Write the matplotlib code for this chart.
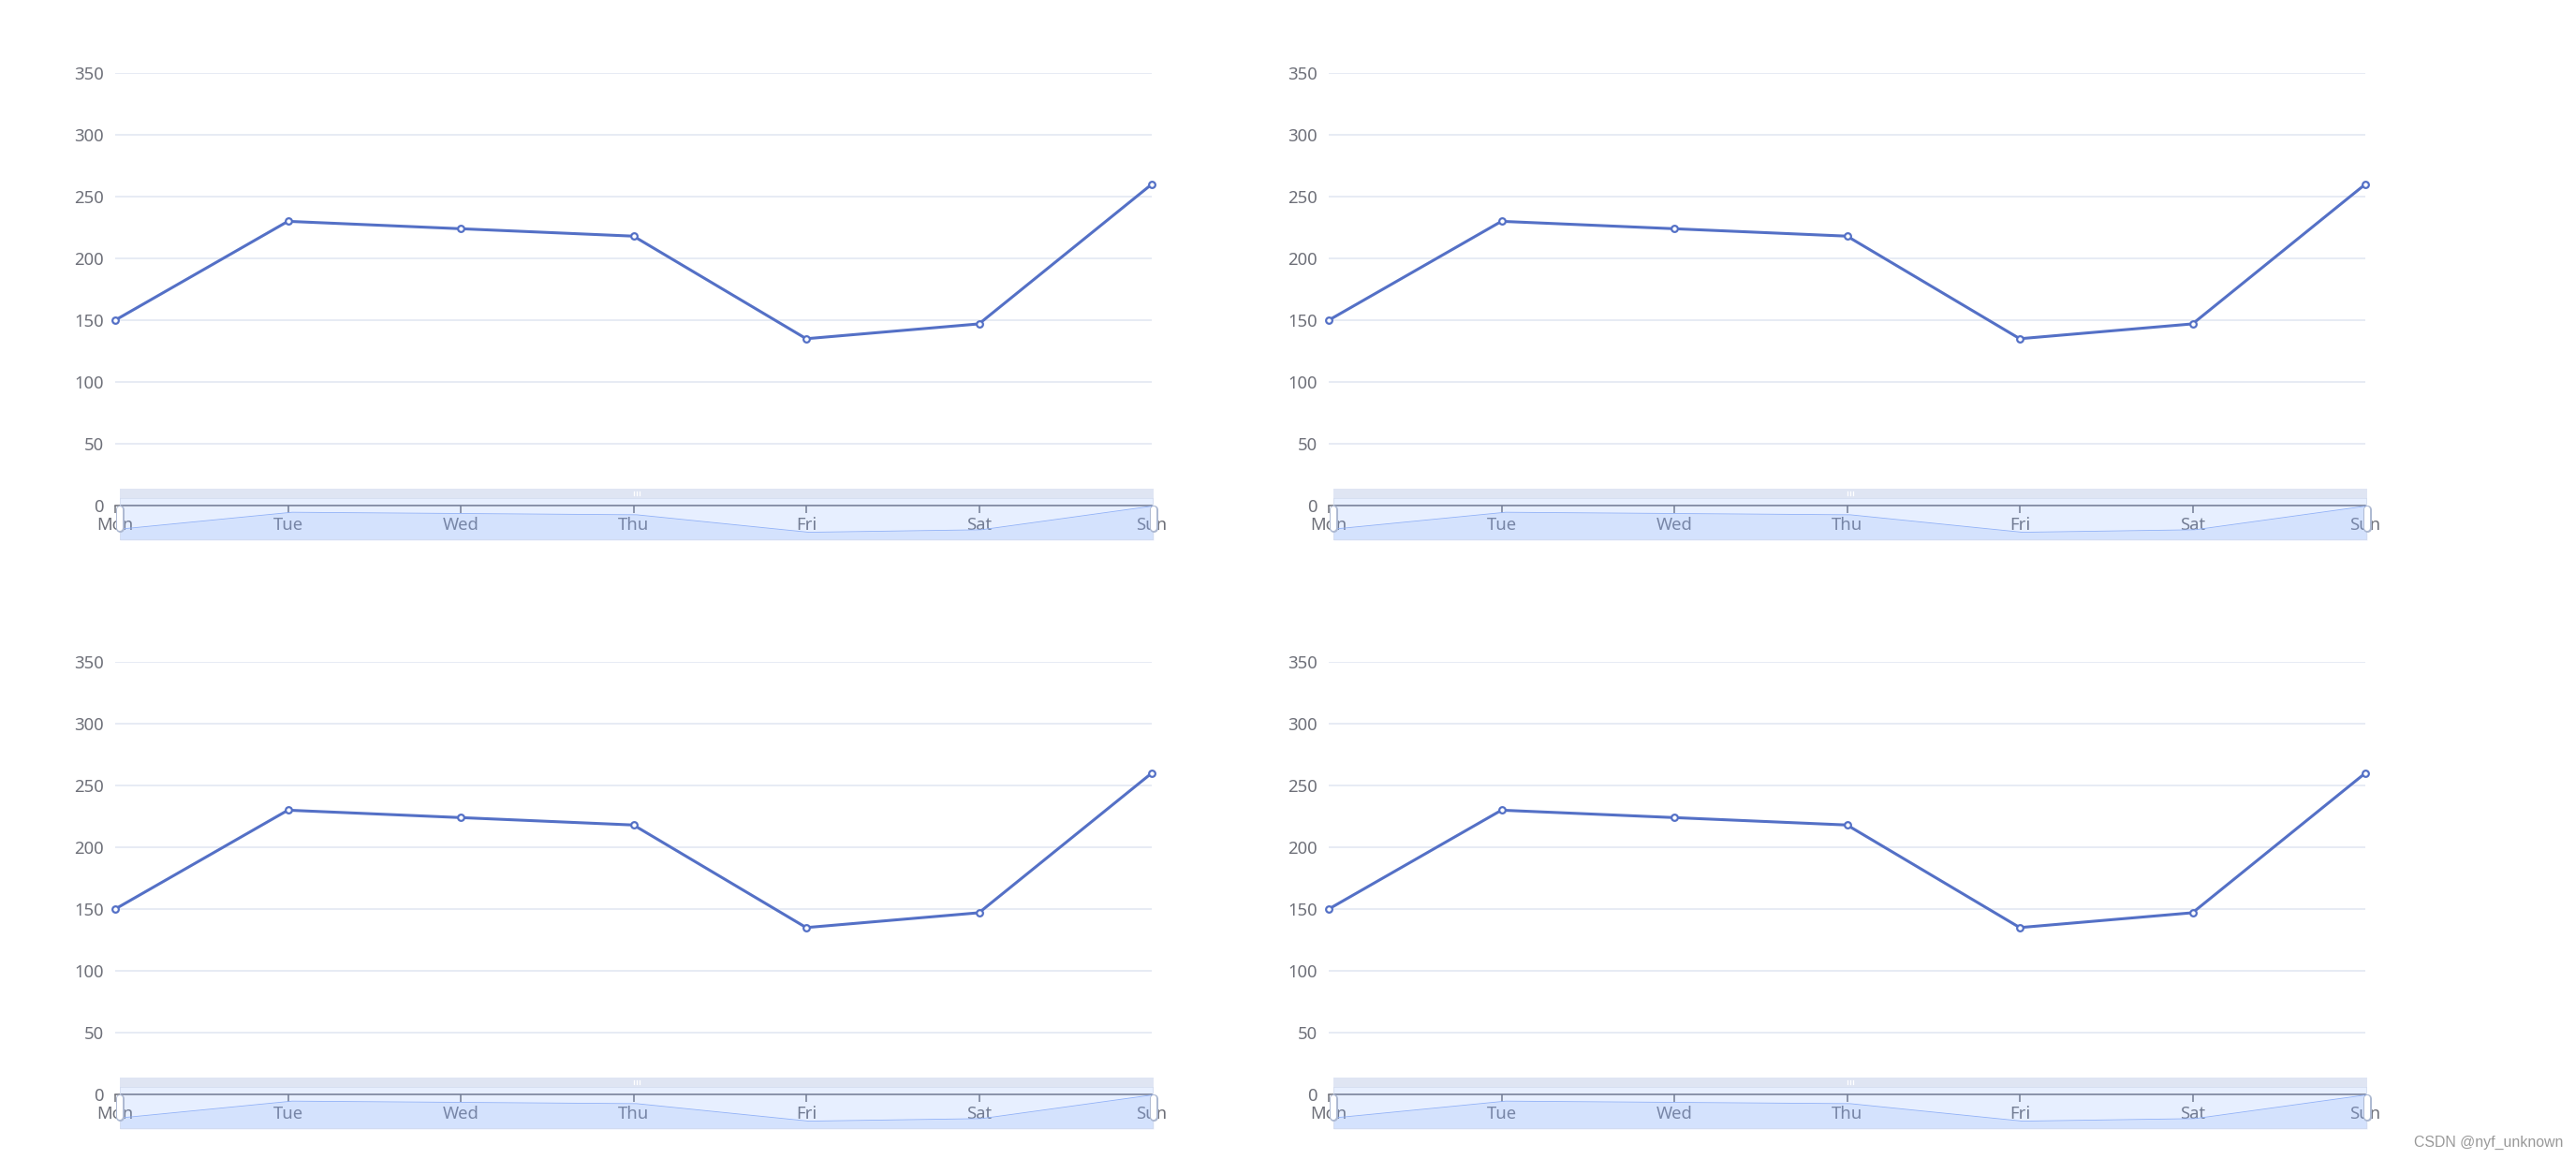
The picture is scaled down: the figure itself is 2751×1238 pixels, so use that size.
import numpy as np
import matplotlib.pyplot as plt
from matplotlib.patches import Rectangle

days = ['Mon', 'Tue', 'Wed', 'Thu', 'Fri', 'Sat', 'Sun']
values = [150, 230, 224, 218, 135, 147, 260]
y_ticks = [0, 50, 100, 150, 200, 250, 300, 350]

W, H = 2751, 1238
plt.rcParams['font.family'] = ['Noto Sans', 'DejaVu Sans']
fig = plt.figure(figsize=(W / 100, H / 100), dpi=100)


def box(x0, y0, x1, y1):
    # pixel box (origin top-left) -> figure fraction rect
    return [x0 / W, 1 - y1 / H, (x1 - x0) / W, (y1 - y0) / H]


def chart(dx, dy):
    x = np.arange(len(days))
    ax = fig.add_axes(box(123 + dx, 78 + dy, 1230 + dx, 540 + dy))
    ax.plot(x, values, color='#5470c6', lw=2.2, marker='o', ms=4.8,
            mfc='white', mec='#5470c6', mew=1.6, zorder=3, clip_on=False)
    ax.set_xlim(0, len(days) - 1)
    ax.set_ylim(0, 350)
    ax.set_yticks(y_ticks)
    ax.set_xticks(x)
    ax.set_xticklabels(days)
    for s in ['top', 'right', 'left']:
        ax.spines[s].set_visible(False)
    ax.spines['bottom'].set_color('#6E7079')
    ax.spines['bottom'].set_linewidth(1.1)
    ax.spines['bottom'].set_zorder(2.5)
    ax.grid(axis='y', color='#E0E6F1', lw=1.1)
    ax.set_axisbelow(True)
    ax.tick_params(axis='y', length=0, pad=9, labelsize=13.3, labelcolor='#6E7079')
    ax.tick_params(axis='x', length=5.4, width=1.1, color='#6E7079', pad=3.2,
                   labelsize=13.3, labelcolor='#6E7079')

    # data zoom slider
    sx0, sx1 = 128 + dx, 1232 + dx
    sy0, sy1 = 532 + dy, 577 + dy
    sw, sh = sx1 - sx0, sy1 - sy0
    sa = fig.add_axes(box(sx0, sy0, sx1, sy1), zorder=5)
    sa.patch.set_visible(False)
    sa.set_axis_off()
    lo, hi = min(values), max(values)
    off = (hi - lo) * 0.3
    sa.set_xlim(0, len(days) - 1)
    sa.set_ylim(lo - off, hi + off)
    sa.fill_between(x, values, lo - off, color='#8fb0f7', alpha=0.2, lw=0)
    sa.plot(x, values, color='#8fb0f7', lw=0.6)
    sa.add_patch(Rectangle((0, 0), 1, 1, transform=sa.transAxes,
                           fc=(135 / 255, 175 / 255, 1, 0.2), ec='#d2dbee', lw=1.1))
    mh = 10.5 / sh
    sa.add_patch(Rectangle((0, 1), 1, mh, transform=sa.transAxes, fc='#D2DBEE',
                           alpha=0.7, lw=0, clip_on=False))
    for k in (-3, 0, 3):
        xc = 0.5 + k / sw
        sa.plot([xc, xc], [1 + 3 / sh, 1 + 7.5 / sh], color='white', lw=0.9,
                transform=sa.transAxes, clip_on=False)
    for ex in (0, 1):
        yb, yt = (577 - 568 + 4.5) / sh, (577 - 539 - 4.5) / sh
        sa.plot([ex, ex], [yb, yt], color='#ACB8D1', lw=6.5, solid_capstyle='round',
                transform=sa.transAxes, clip_on=False)
        sa.plot([ex, ex], [yb, yt], color='white', lw=4.4, solid_capstyle='round',
                transform=sa.transAxes, clip_on=False)


for dy in (0, 629):
    for dx in (0, 1296):
        chart(dx, dy)

fig.text(2737 / W, 1 - 1220 / H, 'CSDN @nyf_unknown', ha='right', va='center',
         fontsize=11.4, color='#999999', family=['Liberation Sans', 'DejaVu Sans'])

fig.savefig('out.png', dpi=100)
